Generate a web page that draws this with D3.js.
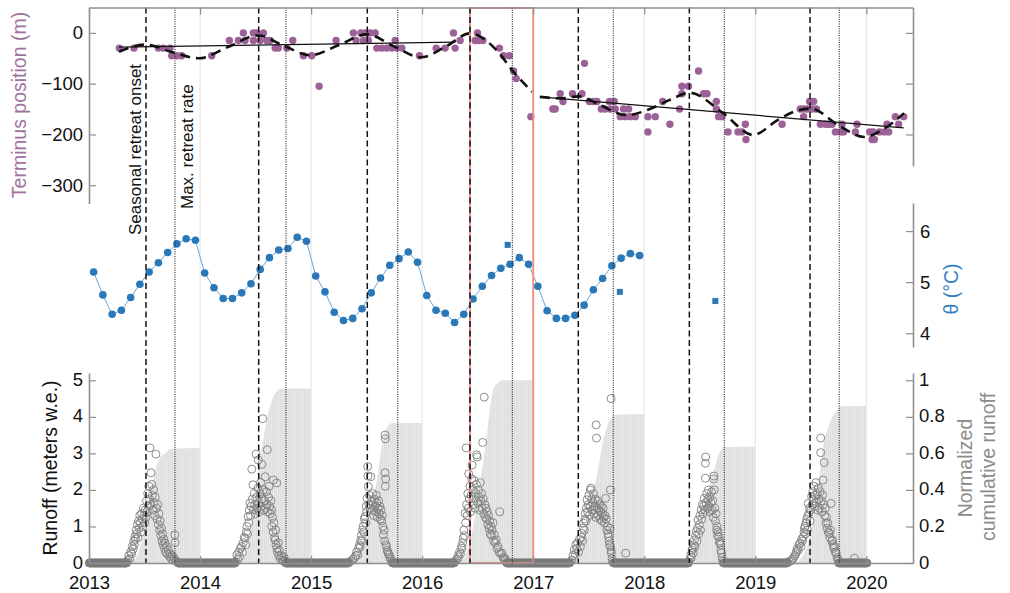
<!DOCTYPE html>
<html><head><meta charset="utf-8">
<script src="https://cdn.jsdelivr.net/npm/d3@7"></script>
<style>
html,body{margin:0;padding:0;background:#fff;}
svg{display:block;font-family:"Liberation Sans",Arial,Helvetica,sans-serif;}
</style></head><body>
<svg id="chart" width="1010" height="593"></svg>
<script>
// ---------------- DATA ----------------
const yearTicks = [2013, 2014, 2015, 2016, 2017, 2018, 2019, 2020];
const terminusTicks = [-300, -200, -100, 0];
const thetaTicks = [4, 5, 6];
const runoffTicks = [0, 1, 2, 3, 4, 5];
const cumTicks = [0, 0.2, 0.4, 0.6, 0.8, 1];

// event lines (decimal year)
const retreatOnset = [2013.513, 2014.528, 2015.506, 2016.431, 2017.406, 2018.406, 2019.493];
const maxRetreatRate = [2013.774, 2014.774, 2015.780, 2016.812, 2017.721, 2018.721, 2019.756];
const highlightYear = [2016.431, 2017.0];

// terminus position [decimal year, m]
const terminus = [
[2013.273,-30],[2013.405,-30],[2013.624,-30],[2013.669,-30],[2013.730,-30],[2013.745,-45],[2013.790,-45],[2013.835,-45],[2014.105,-45],
[2014.264,-15],[2014.345,-15],[2014.390,0],[2014.405,-15],[2014.480,0],[2014.480,-15],[2014.511,0],[2014.540,-15],[2014.570,0],[2014.600,-15],[2014.631,-15],
[2014.676,-30],[2014.705,-30],[2014.781,-30],[2014.835,-15],[2014.931,-45],[2015.006,-45],[2015.072,-105],[2015.225,-15],
[2015.381,0],[2015.405,-15],[2015.448,0],[2015.471,-15],[2015.486,0],[2015.516,-15],[2015.532,0],[2015.577,0],[2015.592,-30],[2015.637,-30],
[2015.682,-30],[2015.727,-30],[2015.757,-15],[2015.772,-30],[2015.817,-30],[2015.976,-45],[2016.126,-30],[2016.207,-30],[2016.282,0],
[2016.297,-30],[2016.342,-15],[2016.477,-15],[2016.498,0],[2016.507,-15],[2016.547,-15],[2016.696,-30],[2016.732,-45],[2016.784,-45],
[2016.823,-75],[2016.847,-90],[2016.979,-165],[2017.177,-150],[2017.198,-150],[2017.243,-120],[2017.268,-135],[2017.354,-120],[2017.439,-120],
[2017.462,-60],[2017.505,-135],[2017.543,-135],[2017.574,-135],[2017.613,-150],[2017.649,-150],[2017.687,-135],[2017.694,-150],[2017.730,-135],
[2017.739,-150],[2017.784,-165],[2017.814,-150],[2017.829,-165],[2017.859,-150],[2017.874,-165],[2017.919,-165],[2018.033,-165],[2018.033,-195],
[2018.099,-165],[2018.166,-135],[2018.231,-180],[2018.318,-150],[2018.339,-105],[2018.399,-105],[2018.339,-120],[2018.489,-75],[2018.534,-120],
[2018.565,-120],[2018.649,-135],[2018.649,-150],[2018.669,-165],[2018.700,-165],[2018.754,-195],[2018.844,-195],[2018.880,-195],[2018.910,-180],
[2018.916,-210],[2019.241,-180],[2019.405,-150],[2019.435,-150],[2019.435,-165],[2019.466,-150],[2019.489,-135],[2019.511,-150],[2019.525,-135],
[2019.550,-150],[2019.586,-180],[2019.631,-180],[2019.661,-180],[2019.691,-180],[2019.721,-195],[2019.766,-195],[2019.781,-180],[2019.795,-195],
[2019.901,-195],[2019.916,-180],[2020.030,-195],[2020.051,-210],[2020.060,-195],[2020.072,-210],[2020.117,-195],[2020.162,-195],[2020.186,-180],
[2020.201,-195],[2020.261,-165],[2020.291,-180],[2020.336,-165]
];
// linear trends
const trendA = [[2013.27,-28],[2016.30,-18]];
const trendB = [[2017.06,-126],[2020.336,-187]];
// seasonal fit
const fitA = [[2013.27,-37],[2013.51,-23],[2013.75,-38],[2013.99,-50],[2014.25,-28],[2014.52,-5],[2014.76,-26],[2014.99,-44],
[2015.25,-24],[2015.50,-3],[2015.75,-27],[2015.99,-48],[2016.22,-26],[2016.43,-1],[2016.67,-34],[2016.82,-76],[2016.99,-116]];
const fitB = [[2017.06,-126],[2017.25,-129],[2017.405,-125],[2017.6,-142],[2017.84,-162],[2018.05,-150],[2018.23,-132],[2018.41,-118],
[2018.71,-158],[2018.98,-201],[2019.2,-172],[2019.35,-155],[2019.495,-149],[2019.77,-185],[2019.98,-205],[2020.15,-190],[2020.34,-158]];

// ocean temperature theta, monthly (first month Jan 2013)
const thetaStart = 2013;
const thetaMonthly = [
5.20,4.75,4.37,4.45,4.70,4.96,5.20,5.38,5.58,5.75,5.85,5.82,
5.18,4.89,4.68,4.68,4.79,4.97,5.25,5.48,5.63,5.66,5.88,5.80,
5.12,4.81,4.41,4.25,4.29,4.48,4.79,5.08,5.33,5.46,5.59,5.39,
4.74,4.45,4.39,4.21,4.37,4.67,4.92,5.13,5.27,5.35,5.48,5.35,
4.92,4.44,4.29,4.29,4.35,4.55,4.85,5.07,5.32,5.47,5.56,5.52
];
const thetaCasts = [[2016.77,5.73],[2017.78,4.81],[2018.64,4.63]];

// runoff: season year, [day of year, m w.e.]
const seasonYears = [2013, 2014, 2015, 2016, 2017, 2018, 2019];
const runoff2013 = [[124,0.03],[128,0.08],[131,0.2],[134,0.12],[137,0.3],[140,0.25],[142,0.45],[145,0.38],[147,0.6],[149,0.5],[151,0.72],[153,0.65],[155,0.9],[157,0.8],[159,1.05],[161,0.7],[163,1.15],[165,0.95],[167,1.3],[169,1.1],[171,0.85],[173,1.35],[175,1.2],[177,1.0],[179,1.5],[181,1.3],[183,1.1],[185,1.45],[187,1.25],[189,1.7],[191,1.4],[193,1.9],[195,1.55],[197,2.1],[199,1.75],[200,3.15],[202,1.6],[204,2.47],[206,2.15],[208,1.85],[210,1.45],[212,2.0],[214,1.65],[216,1.3],[218,1.8],[220,2.98],[222,1.5],[224,1.2],[226,1.6],[228,1.05],[230,1.35],[232,0.9],[234,1.15],[236,0.75],[238,0.95],[240,0.6],[242,0.8],[244,0.5],[246,0.65],[248,0.4],[250,0.55],[252,0.3],[255,0.45],[258,0.25],[261,0.35],[264,0.18],[267,0.25],[270,0.12],[273,0.2],[276,0.08],[279,0.15],[282,0.77],[283,0.56],[285,0.06],[288,0.04]];
const runoff2014 = [[118,0.04],[121,0.22],[124,0.1],[127,0.3],[130,0.18],[133,0.4],[136,0.45],[139,0.3],[142,0.55],[145,0.7],[148,0.68],[150,0.5],[152,0.85],[154,1.0],[156,0.8],[158,1.27],[160,1.1],[162,1.45],[164,1.64],[166,1.3],[168,1.55],[170,2.57],[172,1.75],[174,2.14],[176,1.45],[178,1.9],[180,1.6],[182,1.35],[184,2.98],[186,1.8],[188,1.5],[190,2.05],[191,2.82],[193,1.65],[195,1.4],[197,1.9],[199,2.2],[201,1.55],[203,2.7],[204,1.75],[206,3.95],[208,2.0],[210,1.45],[212,1.7],[214,2.36],[216,1.5],[218,1.95],[220,1.6],[221,3.1],[223,1.4],[225,1.8],[227,2.1],[229,1.55],[231,1.35],[233,1.7],[235,1.45],[236,1.0],[238,1.25],[240,0.85],[241,2.27],[243,1.1],[245,0.7],[247,0.63],[249,0.9],[250,0.5],[252,2.19],[253,0.4],[255,0.3],[257,0.55],[259,0.2],[261,0.35],[264,0.12],[267,0.2],[270,0.08],[274,0.05],[276,0.15],[279,0.06]];
const runoff2015 = [[126,0.03],[132,0.06],[138,0.1],[143,0.15],[147,0.2],[150,0.3],[153,0.22],[156,0.4],[159,0.5],[161,0.45],[163,0.63],[165,0.75],[167,0.6],[169,0.9],[171,1.0],[173,0.85],[175,1.2],[177,1.27],[179,1.1],[181,1.55],[183,1.4],[184,1.77],[186,2.64],[187,2.38],[188,2.09],[190,1.6],[192,1.85],[194,1.5],[196,2.36],[198,1.7],[200,1.45],[202,1.9],[204,1.6],[206,1.3],[208,1.75],[210,1.55],[212,1.4],[214,1.85],[216,1.65],[218,1.25],[220,1.5],[222,1.7],[224,1.35],[226,1.55],[228,1.2],[230,1.45],[232,1.15],[234,1.3],[236,1.0],[238,0.77],[240,0.9],[242,0.6],[243,3.5],[244,3.4],[243,2.47],[245,2.3],[244,2.1],[246,0.5],[248,0.45],[250,0.35],[252,0.3],[254,0.25],[257,0.22],[259,0.15],[262,0.1],[265,0.04]];
const runoff2016 = [[106,0.03],[110,0.06],[114,0.1],[118,0.2],[120,0.15],[123,0.3],[126,0.25],[129,0.45],[131,0.4],[133,0.55],[135,0.68],[137,0.9],[139,0.75],[141,1.36],[143,1.1],[145,3.15],[146,1.6],[148,1.3],[150,1.9],[152,1.5],[153,2.44],[155,1.75],[157,2.1],[159,1.4],[161,1.85],[163,2.3],[164,2.68],[166,1.6],[168,2.0],[170,1.75],[172,2.25],[174,1.5],[176,1.9],[178,2.15],[179,2.96],[181,2.9],[183,1.65],[185,2.0],[187,1.8],[189,1.45],[191,2.2],[193,1.7],[195,1.9],[197,1.5],[199,3.3],[201,1.75],[203,1.35],[204,4.54],[206,1.6],[208,1.25],[210,1.5],[212,1.2],[214,1.4],[216,1.05],[218,1.3],[220,0.95],[222,1.15],[224,0.8],[226,1.0],[228,0.75],[230,0.9],[233,1.1],[235,0.6],[237,0.77],[240,0.55],[243,0.63],[246,0.4],[250,0.45],[253,0.3],[255,1.4],[258,0.25],[262,0.27],[266,0.15],[270,0.1],[273,0.12],[276,0.04]];
const runoff2017 = [[122,0.03],[127,0.08],[131,0.2],[135,0.36],[138,0.25],[140,0.5],[143,0.4],[146,0.55],[149,0.3],[152,0.65],[155,0.45],[158,0.7],[160,0.81],[162,0.6],[164,0.95],[166,1.09],[168,0.9],[170,1.2],[171,1.36],[173,1.15],[175,1.5],[177,1.73],[179,1.4],[181,1.6],[183,1.85],[185,1.3],[187,1.55],[188,2.0],[190,2.05],[192,1.75],[194,1.45],[196,1.65],[198,1.9],[200,1.35],[202,1.55],[204,1.75],[206,1.25],[207,3.78],[208,3.42],[210,1.5],[212,1.7],[214,1.3],[216,1.45],[218,1.6],[220,1.2],[222,1.4],[224,1.55],[226,1.15],[228,1.35],[230,1.5],[232,1.25],[234,1.1],[236,1.3],[238,1.77],[240,1.2],[242,0.9],[244,1.0],[246,0.8],[247,0.72],[249,0.6],[251,0.5],[252,0.95],[254,0.45],[254,2.0],[256,4.5],[256,0.35],[257,0.27],[259,0.12],[260,0.04],[304,0.27]];
const runoff2018 = [[146,0.03],[150,0.1],[153,0.22],[155,0.15],[157,0.35],[159,0.4],[161,0.28],[163,0.5],[165,0.63],[167,0.45],[169,0.75],[171,0.86],[173,0.6],[175,0.95],[177,1.18],[179,0.8],[181,1.05],[183,1.3],[185,0.9],[187,1.45],[189,1.2],[191,1.6],[193,1.35],[195,1.55],[197,1.77],[199,1.45],[201,2.32],[201,2.73],[202,2.9],[203,1.65],[205,1.9],[207,1.5],[209,1.75],[211,2.0],[213,1.55],[215,1.8],[217,1.4],[219,1.65],[221,1.95],[223,1.45],[225,1.7],[227,1.25],[228,2.3],[229,2.38],[230,2.0],[232,1.5],[234,1.15],[236,1.35],[238,0.9],[239,1.0],[241,0.75],[243,0.85],[245,0.72],[247,0.55],[249,0.6],[251,0.5],[252,0.35],[254,0.27],[256,0.15],[258,0.05]];
const runoff2019 = [[106,0.02],[112,0.04],[118,0.06],[122,0.1],[126,0.15],[130,0.2],[133,0.25],[135,0.31],[138,0.4],[141,0.35],[144,0.5],[147,0.54],[150,0.45],[152,0.65],[155,0.6],[158,0.72],[160,0.85],[162,0.95],[163,1.0],[165,0.8],[167,1.1],[169,1.2],[171,0.9],[172,1.27],[174,1.63],[176,1.35],[178,1.5],[180,1.15],[182,1.45],[185,1.82],[187,1.6],[189,1.95],[191,1.7],[193,2.1],[195,1.55],[197,1.85],[199,2.2],[201,1.65],[203,1.9],[205,1.45],[207,2.05],[209,1.75],[211,1.5],[213,1.95],[215,3.42],[215,3.02],[217,1.7],[219,1.4],[221,1.85],[223,2.27],[224,1.6],[226,2.75],[228,1.3],[230,1.5],[232,1.09],[234,1.25],[236,0.95],[238,1.1],[240,0.85],[243,0.81],[245,0.7],[247,0.9],[249,1.63],[251,0.6],[254,0.63],[256,0.5],[258,0.4],[260,0.45],[263,0.3],[266,0.27],[269,0.15],[271,0.1],[273,0.05],[326,0.13]];
const runoffSeasons = [runoff2013, runoff2014, runoff2015, runoff2016, runoff2017, runoff2018, runoff2019];
// winter periods with zero runoff [start, end] decimal year
const zeroRuns = [[2013.0,2013.34],[2013.80,2014.32],[2014.77,2015.34],[2015.73,2016.29],[2016.76,2017.33],[2017.72,2018.40],[2018.71,2019.29],[2019.75,2020.01]];

// normalized cumulative runoff: [day of year, fraction]
const cum2013 = [[125,0],[150,0.02],[170,0.1],[188,0.25],[200,0.36],[212,0.46],[222,0.53],[235,0.58],[250,0.6],[270,0.625],[365,0.63]];
const cum2014 = [[118,0],[150,0.05],[165,0.15],[180,0.33],[197,0.56],[208,0.68],[219,0.78],[236,0.89],[252,0.94],[265,0.955],[365,0.955]];
const cum2015 = [[126,0],[150,0.02],[170,0.1],[185,0.2],[200,0.33],[217,0.46],[227,0.58],[238,0.69],[255,0.756],[265,0.767],[365,0.767]];
const cum2016 = [[106,0],[130,0.01],[150,0.08],[170,0.22],[185,0.38],[201,0.56],[213,0.71],[224,0.86],[234,0.95],[251,0.99],[265,1.0],[365,1.0]];
const cum2017 = [[122,0],[150,0.06],[170,0.17],[185,0.28],[200,0.4],[211,0.5],[222,0.6],[233,0.69],[244,0.756],[255,0.79],[266,0.81],[365,0.816]];
const cum2018 = [[146,0],[170,0.06],[185,0.15],[200,0.28],[210,0.37],[219,0.45],[230,0.51],[241,0.58],[252,0.62],[262,0.635],[365,0.637]];
const cum2019 = [[106,0],[140,0.01],[160,0.05],[180,0.15],[195,0.28],[210,0.455],[221,0.62],[237,0.73],[254,0.80],[270,0.84],[285,0.86],[365,0.86]];
const cumSeasons = [cum2013, cum2014, cum2015, cum2016, cum2017, cum2018, cum2019];

// ---------------- CHART ----------------
const svg = d3.select("#chart");
const FONT = '"Liberation Sans", Arial, Helvetica, sans-serif';
const AX = "#8f8f8f";
const PURPLE = "#9c6196", BLUE = "#2a78b8", GREY = "#808080";

const x = d3.scaleLinear().domain([2013, 2020.42]).range([89, 913]);
const yTop = d3.scaleLinear().domain([-336, 50]).range([203.5, 7.5]);
const yTheta = d3.scaleLinear().domain([3.73, 6.55]).range([347, 203]);
const yRun = d3.scaleLinear().domain([0, 5.2]).range([563, 373]);
const yCum = d3.scaleLinear().domain([0, 1.04]).range([563, 373]);
const doyX = (yr, d) => x(yr + d / 365);

// pattern for cumulative bars
const defs = svg.append("defs");
const pat = defs.append("pattern").attr("id","stripes").attr("patternUnits","userSpaceOnUse")
  .attr("width",2).attr("height",4);
pat.append("rect").attr("width",2).attr("height",4).attr("fill","#e7e7e7");
pat.append("rect").attr("width",0.6).attr("height",4).attr("fill","#d9d9d9");

// cumulative runoff areas
const gCum = svg.append("g");
seasonYears.forEach((yr, i) => {
  const area = d3.area().x(d => doyX(yr, d[0])).y0(yRun(0)).y1(d => yCum(d[1])).curve(d3.curveMonotoneX);
  gCum.append("path").datum(cumSeasons[i]).attr("d", area).attr("fill", "url(#stripes)");
});

// year grid lines
svg.append("g").selectAll("line").data(yearTicks.slice(1)).join("line")
  .attr("x1", d => x(d)).attr("x2", d => x(d)).attr("y1", yTop(50)).attr("y2", yRun(0))
  .attr("stroke", "#e9e9e9").attr("stroke-width", 1.3);

// ---- top panel ----
const gTop = svg.append("g");
gTop.selectAll("circle").data(terminus).join("circle")
  .attr("cx", d => x(d[0])).attr("cy", d => yTop(d[1])).attr("r", 3.7).attr("fill", PURPLE);
const lineTop = d3.line().x(d => x(d[0])).y(d => yTop(d[1]));
[trendA, trendB].forEach(t => gTop.append("path").datum(t).attr("d", lineTop)
  .attr("fill","none").attr("stroke","#111").attr("stroke-width",1.2));
const fitLine = d3.line().x(d => x(d[0])).y(d => yTop(d[1])).curve(d3.curveMonotoneX);
[fitA, fitB].forEach(f => gTop.append("path").datum(f).attr("d", fitLine)
  .attr("fill","none").attr("stroke","#111").attr("stroke-width",2.6).attr("stroke-dasharray","10,6"));

// ---- middle panel ----
const thetaData = thetaMonthly.map((v, i) => [thetaStart + (i + 0.5) / 12, v]);
const gMid = svg.append("g");
gMid.append("path").datum(thetaData)
  .attr("d", d3.line().x(d => x(d[0])).y(d => yTheta(d[1])))
  .attr("fill","none").attr("stroke","#6aa6d8").attr("stroke-width",1);
gMid.selectAll("circle").data(thetaData).join("circle")
  .attr("cx", d => x(d[0])).attr("cy", d => yTheta(d[1])).attr("r", 3.8).attr("fill", BLUE);
gMid.selectAll("rect").data(thetaCasts).join("rect")
  .attr("x", d => x(d[0]) - 3).attr("y", d => yTheta(d[1]) - 3).attr("width", 6).attr("height", 6).attr("fill", BLUE);

// ---- bottom panel ----
const gRun = svg.append("g");
const zeroDays = zeroRuns.flatMap(r => d3.range(r[0], r[1], 1 / 365).map(t => [t, 0]));
gRun.selectAll("circle.z").data(zeroDays).join("circle").attr("class","z")
  .attr("cx", d => x(d[0])).attr("cy", d => yRun(d[1])).attr("r", 3.8)
  .attr("fill","none").attr("stroke", "#7a7a7a").attr("stroke-width", 0.8);
seasonYears.forEach((yr, i) => {
  gRun.append("g").selectAll("circle").data(runoffSeasons[i]).join("circle")
    .attr("cx", d => doyX(yr, d[0])).attr("cy", d => yRun(d[1])).attr("r", 4)
    .attr("fill","none").attr("stroke", GREY).attr("stroke-width", 0.9);
});

// highlight rectangle
svg.append("rect").attr("x", x(highlightYear[0])).attr("y", yTop(49))
  .attr("width", x(highlightYear[1]) - x(highlightYear[0])).attr("height", yRun(0) - yTop(49))
  .attr("fill","none").attr("stroke","#f28a7d").attr("stroke-width",1.8);

// event lines
svg.append("g").selectAll("line").data(retreatOnset).join("line")
  .attr("x1", d => x(d)).attr("x2", d => x(d)).attr("y1", yTop(50)).attr("y2", yRun(0))
  .attr("stroke","#111").attr("stroke-width",1.5).attr("stroke-dasharray","6,3.5");
svg.append("g").selectAll("line").data(maxRetreatRate).join("line")
  .attr("x1", d => x(d)).attr("x2", d => x(d)).attr("y1", yTop(50)).attr("y2", yRun(0))
  .attr("stroke","#222").attr("stroke-width",1.1).attr("stroke-dasharray","1,1.3");

// ---- axes ----
function style(g) {
  g.attr("font-family", FONT).attr("font-size", 18.5);
  g.select(".domain").attr("stroke", AX).attr("stroke-width", 1.6);
  g.selectAll(".tick line").attr("stroke", AX).attr("stroke-width", 1.2);
  g.selectAll(".tick text").attr("fill", "#111");
}
const intFmt = d3.format("d");
// top panel
svg.append("g").attr("transform","translate(89,0)")
  .call(d3.axisLeft(yTop).tickValues(terminusTicks).tickSize(-7).tickSizeOuter(0).tickPadding(6).tickFormat(intFmt)).call(style);
const yTopR = yTop.copy().domain([-262, 50]).range([yTop(-262), yTop(50)]);
svg.append("g").attr("transform","translate(913,0)")
  .call(d3.axisRight(yTopR).tickValues([-200,-100,0]).tickSize(-7).tickSizeOuter(0).tickFormat("")).call(style);
svg.append("g").attr("transform", `translate(0,${yTop(50)})`)
  .call(d3.axisTop(x).tickValues(yearTicks).tickSize(-7).tickSizeOuter(0).tickFormat("")).call(style);
// middle panel
svg.append("g").attr("transform","translate(913,0)")
  .call(d3.axisRight(yTheta).tickValues(thetaTicks).tickSize(-7).tickSizeOuter(0).tickPadding(7).tickFormat(intFmt)).call(style);
// bottom panel
svg.append("g").attr("transform","translate(89,0)")
  .call(d3.axisLeft(yRun).tickValues(runoffTicks).tickSize(-7).tickSizeOuter(0).tickPadding(6).tickFormat(intFmt)).call(style)
  .call(g => g.selectAll(".tick text").attr("dy", "0.27em"));
svg.append("g").attr("transform","translate(913,0)")
  .call(d3.axisRight(yCum).tickValues(cumTicks).tickSize(-7).tickSizeOuter(0).tickPadding(6).tickFormat(d3.format(""))).call(style)
  .call(g => g.selectAll(".tick text").attr("dy", "0.27em"));
svg.append("g").attr("transform", `translate(0,${yRun(0)})`)
  .call(d3.axisBottom(x).tickValues(yearTicks).tickSize(-7).tickSizeOuter(0).tickPadding(13).tickFormat(intFmt)).call(style);

// ---- labels ----
function vlabel(txt, cx, cy, color, size, anchor) {
  svg.append("text").attr("transform", `translate(${cx},${cy}) rotate(-90)`)
    .attr("text-anchor", anchor || "middle").attr("dy", anchor ? null : "0.35em")
    .attr("font-family", FONT).attr("font-size", size).attr("fill", color).text(txt);
}
vlabel("Terminus position (m)", 19, 105, "#a0719c", 19.5);
vlabel("Runoff (meters w.e.)", 50, 468, "#111", 19.5);
vlabel("θ (°C)", 951, 289, "#2f7fbf", 19.5);
vlabel("Normalized", 965, 468, "#8c8c8c", 19.5);
vlabel("cumulative runoff", 988, 467, "#8c8c8c", 19.5);
vlabel("Seasonal retreat onset", 141, 235, "#111", 17, "start");
vlabel("Max. retreat rate", 193, 209, "#111", 17, "start");
</script>
</body></html>
